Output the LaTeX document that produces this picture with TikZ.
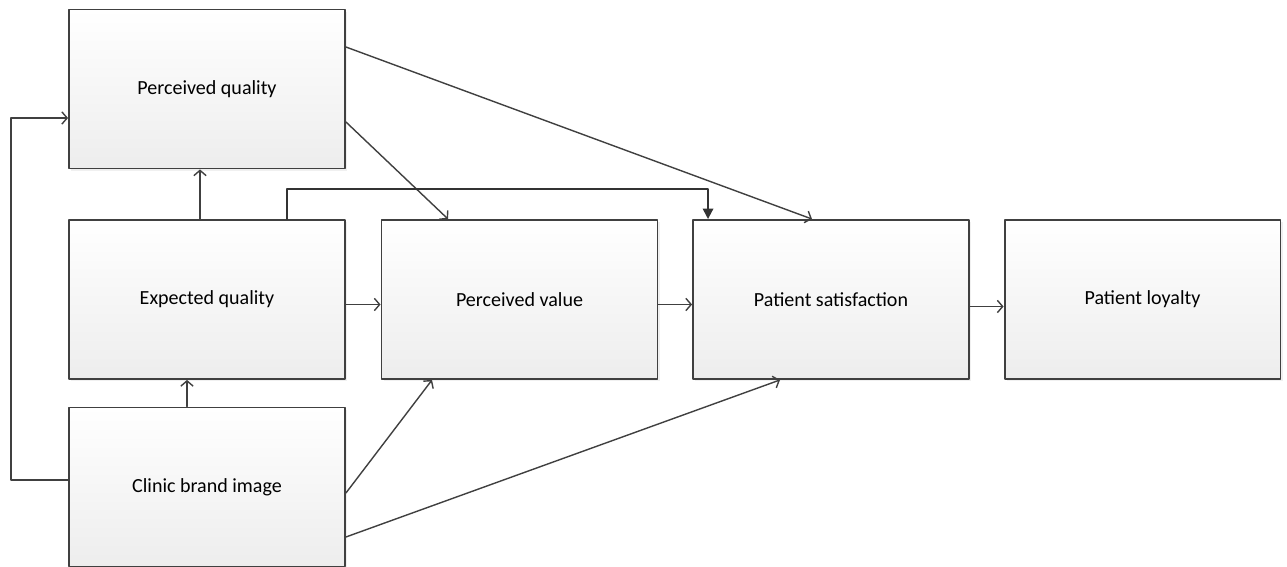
\documentclass[tikz,border=0pt]{standalone}
\usepackage{fontspec}
\setmainfont{Carlito}
\usetikzlibrary{arrows.meta,shadows}
\begin{document}
\begin{tikzpicture}[
				x=0.02cm, y=-0.02cm, font=\fontsize{11.4}{13}\selectfont,
				line join=round, line cap=round,
				box/.style={draw=black!75, line width=1.1pt, top color=white, bottom color=black!7,
					minimum width=5.52cm, minimum height=3.18cm, inner sep=0pt,
					drop shadow={opacity=0.12, shadow xshift=1.2pt, shadow yshift=-1.2pt}},
				link/.style={draw=black!75, line width=0.8pt, -{Straight Barb[length=3pt, width=7pt]}},
				mainlink/.style={draw=black!80, line width=1pt, -{Triangle[length=6pt, width=6pt]}}
				]
				\useasboundingbox (0,0) rectangle (1287,567);
				\node[box] (pq) at (207,89) {Perceived quality};
				\node[box] (eq) at (207,299.5) {Expected quality};
				\node[box] (cbi) at (207,487) {Clinic brand image};
				\node[box] (pv) at (519.5,299.5) {Perceived value};
				\node[box] (ps) at (831,299.5) {Patient satisfaction};
				\node[box] (pl) at (1142.5,299.5) {Patient loyalty};
				\draw[link] ([yshift=0.14cm]cbi.west) -- ++(-57,0) |- ([yshift=-0.58cm]pq.west);
				\draw[link] ([xshift=-0.14cm]eq.north) -- ([xshift=-0.14cm]pq.south);
				\draw[link] ([xshift=-0.4cm]cbi.north) -- ([xshift=-0.4cm]eq.south);
				\draw[link] ([yshift=-0.1cm]eq.east) -- ([yshift=-0.1cm]pv.west);
				\draw[link] ([yshift=-0.1cm]pv.east) -- ([yshift=-0.1cm]ps.west);
				\draw[link] ([yshift=-0.14cm]ps.east) -- ([yshift=-0.14cm]pl.west);
				\draw[link] ([yshift=0.84cm]pq.east) -- ([xshift=-0.38cm]ps.north);
				\draw[link] ([yshift=-0.66cm]pq.east) -- ([xshift=-1.43cm]pv.north);
				\draw[link] ([yshift=-0.12cm]cbi.east) -- ([xshift=-1.75cm]pv.south);
				\draw[link] ([yshift=-1cm]cbi.east) -- ([xshift=-1.02cm]ps.south);
				\draw[mainlink] ([xshift=1.6cm]eq.north) -- ++(0,-30) -| ([xshift=-2.46cm]ps.north);
			\end{tikzpicture}
\end{document}
